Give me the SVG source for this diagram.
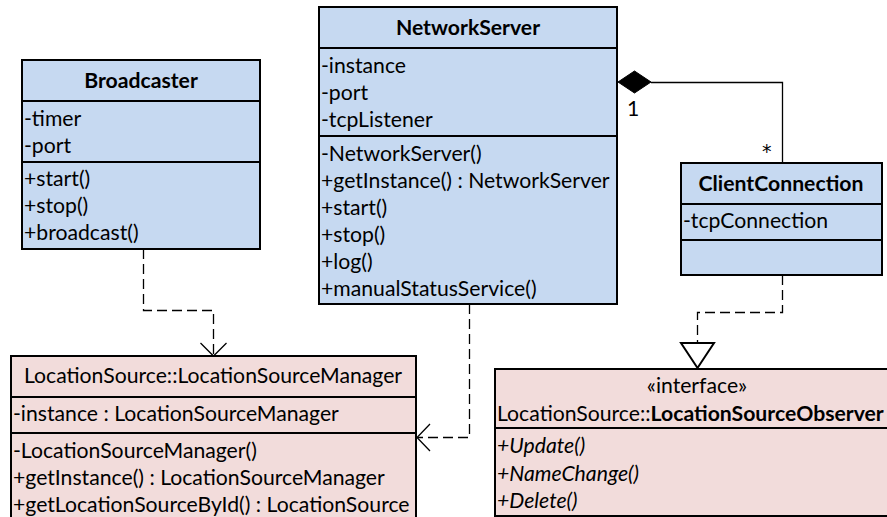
<svg xmlns="http://www.w3.org/2000/svg" width="887" height="517" viewBox="0 0 887 517">
  <style>
    .box { stroke: #000; stroke-width: 2; }
    .cls { fill: #c6d9f1; }
    .ext { fill: #f2dcdb; }
    .sep { stroke: #000; stroke-width: 2; fill: none; }
    .conn { stroke: #000; stroke-width: 1.3; fill: none; }
    .dash { stroke-dasharray: 10 5; }
    text { font-family: Lato, "Open Sans", "Liberation Sans", sans-serif; font-size: 21.2px; fill: #000; }
    .title { font-weight: bold; text-anchor: middle; }
    .mid { text-anchor: middle; }
    .it { font-style: italic; }
    .mult { font-family: "DejaVu Sans", sans-serif; font-size: 19px; }
  </style>
  <rect width="887" height="517" fill="#fff"/>

  <g id="connectors">
    <!-- Broadcaster uses LocationSourceManager -->
    <path class="conn dash" d="M143.5,249 V310.5 H213.5 V355"/>
    <path class="conn" d="M200.5,343 L213.5,356 L226.5,343"/>
    <!-- NetworkServer uses LocationSourceManager -->
    <path class="conn dash" d="M469.5,304 V437.5 H418"/>
    <path class="conn" d="M430,424 L417,437.5 L430,451"/>
    <!-- NetworkServer composes ClientConnection -->
    <path class="conn" d="M651,82.5 H782.5 V163"/>
    <polygon points="618,82 634.5,71 651,82 634.5,93" fill="#000" stroke="#000"/>
    <text x="627" y="116">1</text>
    <text class="mult" x="762" y="158">*</text>
    <!-- ClientConnection realizes LocationSourceObserver -->
    <path class="conn dash" d="M782.5,275 V312.5 H697.5 V343"/>
    <polygon points="681,343 714,343 697.5,368" fill="#fff" stroke="#000" stroke-width="2"/>
  </g>

  <g id="broadcaster">
    <rect class="box cls" x="22" y="60" width="238" height="189"/>
    <line class="sep" x1="22" y1="101" x2="260" y2="101"/>
    <line class="sep" x1="22" y1="162" x2="260" y2="162"/>
    <text class="title" x="141" y="88">Broadcaster</text>
    <text x="24" y="126">-timer</text>
    <text x="24" y="153">-port</text>
    <text x="24" y="186">+start()</text>
    <text x="24" y="213">+stop()</text>
    <text x="24" y="240">+broadcast()</text>
  </g>

  <g id="networkServer">
    <rect class="box cls" x="319" y="7" width="298" height="297"/>
    <line class="sep" x1="319" y1="48" x2="617" y2="48"/>
    <line class="sep" x1="319" y1="136" x2="617" y2="136"/>
    <text class="title" x="468" y="35">NetworkServer</text>
    <text x="321" y="73">-instance</text>
    <text x="321" y="100">-port</text>
    <text x="321" y="127">-tcpListener</text>
    <text x="321" y="161">-NetworkServer()</text>
    <text x="321" y="188">+getInstance() : NetworkServer</text>
    <text x="321" y="215">+start()</text>
    <text x="321" y="242">+stop()</text>
    <text x="321" y="269">+log()</text>
    <text x="321" y="296">+manualStatusService()</text>
  </g>

  <g id="clientConnection">
    <rect class="box cls" x="681" y="163" width="201" height="112"/>
    <line class="sep" x1="681" y1="204" x2="882" y2="204"/>
    <line class="sep" x1="681" y1="240" x2="882" y2="240"/>
    <text class="title" x="781" y="191">ClientConnection</text>
    <text x="683" y="228">-tcpConnection</text>
  </g>

  <g id="locationSourceManager">
    <rect class="box ext" x="11" y="356" width="405" height="170"/>
    <line class="sep" x1="11" y1="397" x2="416" y2="397"/>
    <line class="sep" x1="11" y1="433" x2="416" y2="433"/>
    <text class="mid" x="213" y="383">LocationSource::LocationSourceManager</text>
    <text x="13" y="421">-instance : LocationSourceManager</text>
    <text x="13" y="458">-LocationSourceManager()</text>
    <text x="13" y="485">+getInstance() : LocationSourceManager</text>
    <text x="13" y="512">+getLocationSourceById() : LocationSource</text>
  </g>

  <g id="locationSourceObserver">
    <rect class="box ext" x="495" y="369" width="400" height="147"/>
    <line class="sep" x1="495" y1="428" x2="895" y2="428"/>
    <text class="mid" x="697" y="393">«interface»</text>
    <text x="497" y="421">LocationSource::<tspan font-weight="bold">LocationSourceObserver</tspan></text>
    <text class="it" x="497" y="453">+Update()</text>
    <text class="it" x="497" y="481">+NameChange()</text>
    <text class="it" x="497" y="508">+Delete()</text>
  </g>
</svg>
